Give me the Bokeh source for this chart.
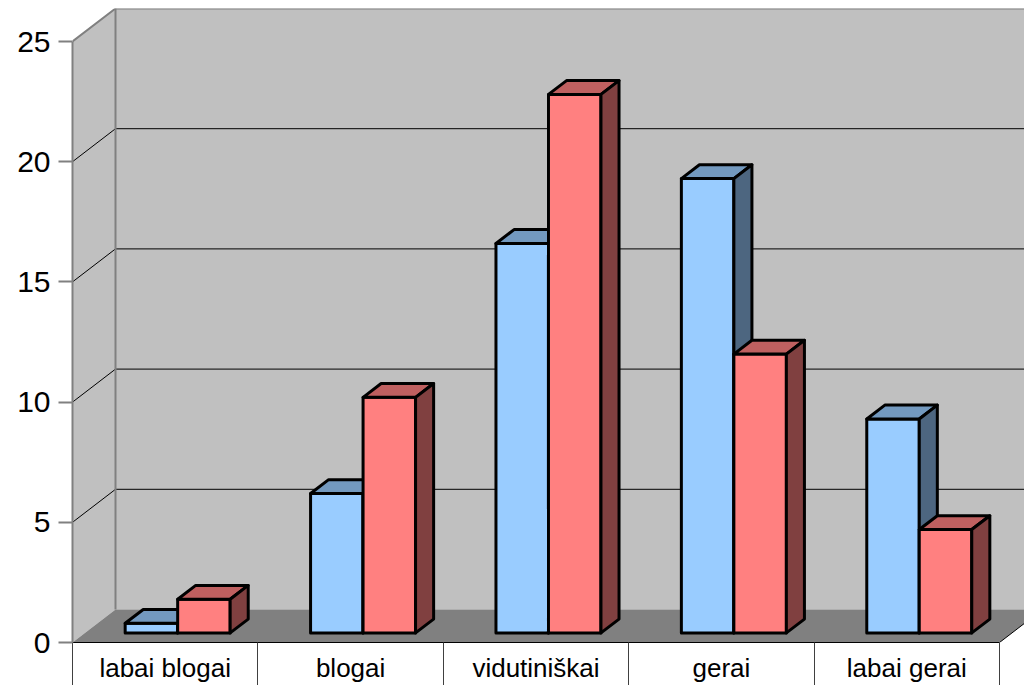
from bokeh.plotting import figure
from bokeh.models import Range1d, FixedTicker
from bokeh.embed import file_html
from bokeh.resources import INLINE

# ---- data ----
categories = ["labai blogai", "blogai", "vidutiniškai", "gerai", "labai gerai"]
series_blue = [0.4, 5.8, 16.2, 18.9, 8.9]
series_red = [1.4, 9.8, 22.4, 11.6, 4.3]
y_ticks = [0, 5, 10, 15, 20, 25]

# ---- layout / style constants ----
FIG_W, FIG_H = 1024, 685
LEFT_PANEL, BOTTOM_PANEL, TOP_PANEL = 72, 43, 8
X0 = 72.0              # front-left corner (screen px units on x)
X1 = 999.0             # front-right end of floor
PX_PER_UNIT = 24.04
DEPTH_X = 43.0
DEPTH_Y = 33.0 / PX_PER_UNIT
Y_MAX = 25
BAR_D0, BAR_D1 = 0.29, 0.71
BAR_W = 52.5
CAT_W = (X1 - X0) / len(categories)

FONT = "Liberation Sans"
WALL = "#C0C0C0"
FLOOR = "#808080"
EDGE = "#808080"
BLUE = ("#99CCFF", "#7399BF", "#4D6680")   # front, top, side
RED = ("#FF8080", "#BF6060", "#804040")

y_top = (FIG_H - BOTTOM_PANEL - TOP_PANEL) / PX_PER_UNIT
x_right = X0 + (FIG_W - LEFT_PANEL)

p = figure(width=FIG_W, height=FIG_H, output_backend="svg", toolbar_location=None,
           x_range=Range1d(X0, x_right), y_range=Range1d(0, y_top),
           min_border_left=LEFT_PANEL, min_border_right=0, min_border_top=TOP_PANEL,
           min_border_bottom=BOTTOM_PANEL)
p.outline_line_color = None
p.background_fill_color = "white"
p.border_fill_color = "white"
p.grid.visible = False


def proj(x, v, d):
    return x + d * DEPTH_X, v + d * DEPTH_Y


def poly(pts):
    xs, ys = zip(*[proj(*pt) for pt in pts])
    return list(xs), list(ys)


# walls & floor
wall_xs, wall_ys, wall_cols = [], [], []
for pts, col in [
    ([(X0, 0, 0), (X0, Y_MAX, 0), (X0, Y_MAX, 1), (X0, 0, 1)], WALL),
    ([(X0, 0, 1), (X1 + 200, 0, 1), (X1 + 200, Y_MAX, 1), (X0, Y_MAX, 1)], WALL),
    ([(X0, 0, 0), (X1, 0, 0), (X1, 0, 1), (X0, 0, 1)], FLOOR),
]:
    xs, ys = poly(pts)
    wall_xs.append(xs); wall_ys.append(ys); wall_cols.append(col)
p.patches(wall_xs, wall_ys, fill_color=wall_cols, line_color=None)

# gridlines (left wall diagonal + back wall)
g_xs, g_ys = [], []
for v in y_ticks[1:-1]:
    xs, ys = poly([(X0, v, 0), (X0, v, 1), (X1 + 200, v, 1)])
    g_xs.append(xs); g_ys.append(ys)
p.multi_line(g_xs, g_ys, line_color="black", line_width=1)

# wall edges
e_xs, e_ys = [], []
for pts in [[(X0, Y_MAX, 0), (X0, Y_MAX, 1), (X1 + 200, Y_MAX, 1)],
            [(X0, 0, 1), (X0, Y_MAX, 1)]]:
    xs, ys = poly(pts)
    e_xs.append(xs); e_ys.append(ys)
p.multi_line(e_xs, e_ys, line_color=EDGE, line_width=2)

fx, fy = poly([(X1, 0, 0), (X1, 0, 1)])
p.line(fx, fy, line_color="black", line_width=1)

# bars
b_xs, b_ys, b_cols = [], [], []
for i in range(len(categories)):
    cx = X0 + (i + 0.5) * CAT_W
    for xl, h, cols in [(cx - BAR_W, series_blue[i], BLUE), (cx, series_red[i], RED)]:
        xr = xl + BAR_W
        faces = [
            [(xl, 0, BAR_D0), (xr, 0, BAR_D0), (xr, h, BAR_D0), (xl, h, BAR_D0)],
            [(xl, h, BAR_D0), (xr, h, BAR_D0), (xr, h, BAR_D1), (xl, h, BAR_D1)],
            [(xr, 0, BAR_D0), (xr, 0, BAR_D1), (xr, h, BAR_D1), (xr, h, BAR_D0)],
        ]
        for f, c in zip(faces, cols):
            xs, ys = poly(f)
            b_xs.append(xs); b_ys.append(ys); b_cols.append(c)
p.patches(b_xs, b_ys, fill_color=b_cols, line_color="black", line_width=3,
          line_join="round")

# y axis
ya = p.yaxis[0]
ya.ticker = FixedTicker(ticks=y_ticks)
ya.bounds = (0, Y_MAX)
ya.axis_line_color = EDGE
ya.axis_line_width = 2
ya.major_tick_out = 14
ya.major_tick_in = 0
ya.major_tick_line_color = EDGE
ya.major_tick_line_width = 2
ya.minor_tick_out = 0
ya.minor_tick_in = 0
ya.major_label_standoff = 8
ya.major_label_text_font = FONT
ya.major_label_text_font_size = "30px"
ya.major_label_text_color = "black"

# x axis
centers = [X0 + (i + 0.5) * CAT_W for i in range(len(categories))]
bounds = [X0 + k * CAT_W for k in range(len(categories) + 1)]
xa = p.xaxis[0]
xa.ticker = FixedTicker(ticks=centers, minor_ticks=bounds)
xa.major_label_overrides = {c: n for c, n in zip(centers, categories)}
xa.bounds = (X0 - 0.01, X1 + 0.01)
xa.axis_line_color = "black"
xa.axis_line_width = 1
xa.major_tick_out = 0
xa.major_tick_in = 0
xa.minor_tick_out = 43
xa.minor_tick_in = 0
xa.minor_tick_line_color = "#404040"
xa.minor_tick_line_width = 1
xa.major_label_standoff = 10 - 43
xa.major_label_text_font = FONT
xa.major_label_text_font_size = "26px"
xa.major_label_text_color = "black"

open("out.html", "w").write(file_html(p, INLINE))
